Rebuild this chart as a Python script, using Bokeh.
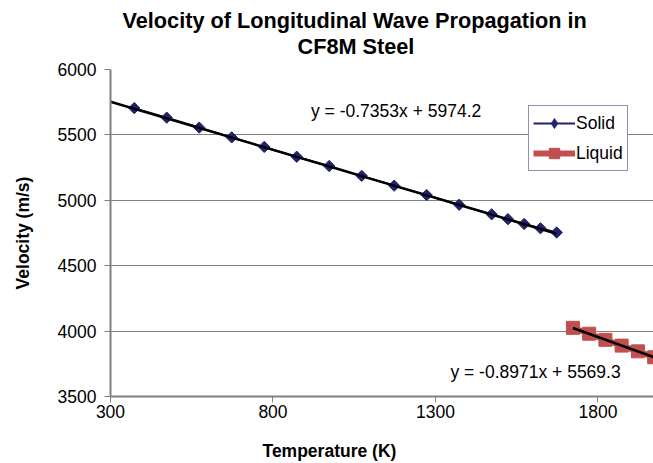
import math
from bokeh.plotting import figure
from bokeh.models import FixedTicker, Legend, LegendItem, Label, Title, CDSView, IndexFilter
from bokeh.embed import file_html
from bokeh.resources import INLINE

# ---------------- data ----------------
title_line1 = "Velocity of Longitudinal Wave Propagation in"
title_line2 = "CF8M Steel"
x_label = "Temperature (K)"
y_label = "Velocity (m/s)"

solid_temp = [373, 473, 573, 673, 773, 873, 973, 1073, 1173, 1273, 1373, 1473, 1523, 1573, 1623, 1673]
solid_vel = [5705, 5632, 5556, 5481, 5408, 5333, 5262, 5187, 5112, 5040, 4966, 4893, 4856, 4819, 4786, 4754]
liquid_temp = [1723, 1773, 1823, 1873, 1923, 1973]
liquid_vel = [4025, 3980, 3933, 3889, 3845, 3800]

solid_fit = (-0.7353, 5974.2)
liquid_fit = (-0.8971, 5569.3)
solid_fit_x = [300, 1673]
liquid_fit_x = [1723, 2100]

x_ticks = [300, 800, 1300, 1800]
y_ticks = [3500, 4000, 4500, 5000, 5500, 6000]
series_names = ["Solid", "Liquid"]

FONT = "Liberation Sans"
NAVY = "#22226E"
RED = "#C0504D"
GRAY = "#808080"

p = figure(width=653, height=463, x_range=(300, 1971), y_range=(3500, 6000),
           output_backend="svg", toolbar_location=None,
           min_border_left=110, min_border_right=0, min_border_top=69, min_border_bottom=67)
p.title = None
p.outline_line_color = None
p.background_fill_color = "white"
p.border_fill_color = "white"

# axes
p.xaxis.ticker = FixedTicker(ticks=x_ticks)
p.yaxis.ticker = FixedTicker(ticks=y_ticks)
for ax in (p.xaxis[0], p.yaxis[0]):
    ax.axis_line_color = GRAY
    ax.axis_line_width = 2
    ax.major_tick_line_color = GRAY
    ax.major_tick_line_width = 1
    ax.major_tick_in = 0
    ax.major_tick_out = 6
    ax.minor_tick_line_color = None
    ax.major_label_text_font = FONT
    ax.major_label_text_font_size = "17.5px"
    ax.major_label_text_color = "black"
p.xaxis.major_label_standoff = 2
p.yaxis.major_label_standoff = 8
p.yaxis.axis_label = y_label
p.yaxis.axis_label_text_font = FONT
p.yaxis.axis_label_text_font_style = "bold"
p.yaxis.axis_label_text_font_size = "17.5px"
p.yaxis.axis_label_text_color = "black"
p.yaxis.axis_label_standoff = 22

p.xgrid.grid_line_color = None
p.ygrid.grid_line_color = GRAY
p.ygrid.grid_line_width = 1

# chart title (two lines) -- first added sits nearest the frame
t2 = Title(text=title_line2, align="left", offset=187, vertical_align="bottom",
           text_font=FONT, text_font_size="21.7px", text_font_style="bold",
           text_color="black", standoff=22)
t1 = Title(text=title_line1, align="left", offset=12, vertical_align="bottom",
           text_font=FONT, text_font_size="21.7px", text_font_style="bold",
           text_color="black", standoff=-24)
p.add_layout(t2, "above")
p.add_layout(t1, "above")

# x-axis title, below a small spacer
spacer = Title(text=" ", text_font_size="2px", standoff=14, text_color="white")
p.add_layout(spacer, "below")
tx = Title(text=x_label, align="left", offset=152, vertical_align="bottom",
           text_font=FONT, text_font_size="17.5px", text_font_style="bold",
           text_color="black", standoff=0)
p.add_layout(tx, "below")

# series
r_sl = p.line(solid_temp, solid_vel, line_color=NAVY, line_width=2)
r_sm = p.scatter(solid_temp, solid_vel, marker="square", angle=math.pi / 4, size=8,
                 fill_color=NAVY, line_color=NAVY)
r_ll = p.line(liquid_temp, liquid_vel, line_color=RED, line_width=6)
r_lm = p.scatter(liquid_temp, liquid_vel, marker="square", size=13, fill_color=RED, line_color=RED)
# diamond-shaped legend key for the solid series (hidden inside the first marker)
r_key = p.scatter(solid_temp, solid_vel, marker="diamond", size=10, fill_color=NAVY,
                  line_color=NAVY, line_width=0.5, view=CDSView(filter=IndexFilter(indices=[0])))

# trendlines
sfy = [solid_fit[0] * x + solid_fit[1] for x in solid_fit_x]
lfy = [liquid_fit[0] * x + liquid_fit[1] for x in liquid_fit_x]
p.line(solid_fit_x, sfy, line_color="black", line_width=2.5)
p.line(liquid_fit_x, lfy, line_color="black", line_width=2.5)

def eq_text(fit):
    return "y = %.4fx + %.1f" % fit

for (lx, ly, fit) in ((917, 5686, solid_fit), (1346, 3684, liquid_fit)):
    p.add_layout(Label(x=lx, y=ly, text=eq_text(fit), text_font=FONT, text_font_size="17.5px",
                       text_align="left", text_baseline="middle", text_color="black"))

legend = Legend(items=[LegendItem(label=series_names[0], renderers=[r_sl, r_key]),
                       LegendItem(label=series_names[1], renderers=[r_ll, r_lm])],
                location=(418, 225), margin=0, padding=4, spacing=4,
                glyph_width=42, glyph_height=26, label_height=20, label_standoff=1,
                label_text_font=FONT, label_text_font_size="17.5px", label_text_color="black",
                border_line_color=NAVY, border_line_width=1.5, background_fill_color="white",
                background_fill_alpha=1)
p.add_layout(legend, "center")

open("out.html", "w").write(file_html(p, INLINE))
